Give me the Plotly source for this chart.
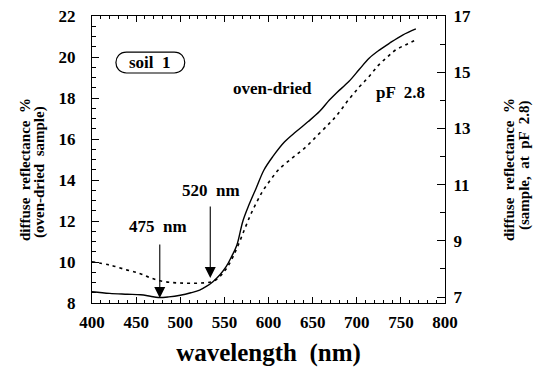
import plotly.graph_objects as go

# ---- data ----
wl_oven = [400, 420, 440, 455, 466, 475, 487, 500, 512, 522, 530, 537, 545, 552, 558, 564,
           571, 578, 586, 595, 605, 618, 631, 645, 658, 669, 677, 691, 703, 714, 726, 737, 752, 767]
refl_oven = [8.55, 8.47, 8.43, 8.40, 8.33, 8.27, 8.30, 8.38, 8.50, 8.63, 8.82, 9.04, 9.38, 9.77, 10.25, 10.8,
             12.0, 12.8, 13.6, 14.5, 15.15, 15.85, 16.35, 16.85, 17.35, 17.9, 18.25, 18.8, 19.4, 19.94, 20.35, 20.67, 21.07, 21.37]

wl_pf = [400, 420, 440, 454, 465, 477, 490, 500, 511, 523, 535, 542, 548, 554, 560, 567, 574, 580, 587, 594,
         603, 612, 627, 643, 656, 669, 677, 690, 703, 714, 725, 735, 744, 755, 765]
refl_pf = [8.26, 8.14, 7.96, 7.84, 7.70, 7.58, 7.52, 7.50, 7.49, 7.50, 7.54, 7.65, 7.84, 8.10, 8.45, 8.95, 9.5, 9.95, 10.4, 10.8,
           11.2, 11.55, 11.95, 12.36, 12.77, 13.18, 13.45, 13.99, 14.48, 14.85, 15.26, 15.55, 15.79, 15.97, 16.12]

x_ticks = [400, 450, 500, 550, 600, 650, 700, 750, 800]
y_left_ticks = [8, 10, 12, 14, 16, 18, 20, 22]
y_right_ticks = [7, 9, 11, 13, 15, 17]

FONT = "Liberation Serif"
L, R, T, B = 92, 445, 16, 303
W, H = 537, 367

def px(xp):
    return (xp - L) / (R - L)

def py(yp):
    return (B - yp) / (B - T)

fig = go.Figure()
fig.add_trace(go.Scatter(x=wl_oven, y=refl_oven, mode="lines", line=dict(color="black", width=1.4),
                         line_shape="spline", showlegend=False))
fig.add_trace(go.Scatter(x=wl_pf, y=refl_pf, mode="lines", yaxis="y2",
                         line=dict(color="black", width=1.6, dash="3px,4px"),
                         line_shape="spline", showlegend=False))
# invisible trace to anchor top x axis
fig.add_trace(go.Scatter(x=[wl_oven[0]], y=[refl_oven[0]], xaxis="x2", mode="markers",
                         marker=dict(opacity=0), showlegend=False, hoverinfo="skip"))

tickfont = dict(family=FONT, size=17, color="black", weight="bold")

fig.update_layout(
    width=W, height=H,
    margin=dict(l=L, r=W - R, t=T, b=H - B, autoexpand=False),
    paper_bgcolor="white", plot_bgcolor="white",
    font=dict(family=FONT, color="black"),
    xaxis=dict(range=[400, 800], tickvals=x_ticks, ticks="inside", ticklen=6, tickwidth=1,
               tickcolor="black", showline=True, linecolor="black", linewidth=1.2,
               showgrid=False, zeroline=False, tickfont=tickfont, automargin=False,
               ticklabelstandoff=3,
               minor=dict(dtick=10, ticks="inside", ticklen=3, tickcolor="black", showgrid=False),
               title=dict(text="wavelength  (nm)", font=dict(family=FONT, size=25, weight="bold"), standoff=12)),
    xaxis2=dict(range=[400, 800], tickvals=x_ticks, overlaying="x", side="top", anchor="y",
                ticks="inside", ticklen=6, tickcolor="black", showline=True, linecolor="black",
                linewidth=1.2, showgrid=False, zeroline=False, showticklabels=False,
                minor=dict(dtick=10, ticks="inside", ticklen=3, tickcolor="black", showgrid=False)),
    yaxis=dict(range=[8, 22], tickvals=y_left_ticks, ticks="inside", ticklen=7, tickcolor="black",
               showline=True, linecolor="black", linewidth=1.2, showgrid=False, zeroline=False,
               tickfont=tickfont, ticklabelstandoff=12, automargin=False,
               minor=dict(dtick=0.5, ticks="inside", ticklen=4, tickcolor="black", showgrid=False)),
    yaxis2=dict(range=[6.79, 17.0], tickvals=y_right_ticks, overlaying="y", side="right",
                ticks="inside", ticklen=8, tickcolor="black", showline=True, linecolor="black",
                linewidth=1.2, showgrid=False, zeroline=False, tickfont=tickfont, automargin=False,
                ticklabelstandoff=4,
                minor=dict(dtick=1, ticks="inside", ticklen=5, tickcolor="black", showgrid=False)),
)

# arrows
for xa, tail, tip in [(476.8, 10.93, 8.24), (534.0, 12.78, 9.22)]:
    fig.add_annotation(x=xa, y=tip, ax=xa, ay=tail, xref="x", yref="y", axref="x", ayref="y",
                       text="", showarrow=True, arrowhead=2, arrowsize=2.0, arrowwidth=1.1,
                       arrowcolor="black")

lbl = dict(family=FONT, size=17, color="black", weight="bold")
fig.add_annotation(x=474.6, y=11.71, text="475  nm", showarrow=False, font=lbl)
fig.add_annotation(x=535.0, y=13.51, text="520  nm", showarrow=False, font=lbl)
fig.add_annotation(x=604.5, y=18.44, text="oven-dried", showarrow=False, font=lbl)
fig.add_annotation(x=750.0, y=18.29, text="pF  2.8", showarrow=False, font=lbl)
fig.add_annotation(x=465.5, y=19.72, text="soil  1", showarrow=False, font=lbl)

# rounded box around "soil 1"
x0, x1, y0, y1 = 427.1, 505.1, 19.22, 20.24
r = 12.0
k = 4 / 3 * r
fig.add_shape(type="path", xref="x", yref="y",
              path=(f"M {x0 + r},{y1} L {x1 - r},{y1} C {x1 - r + k},{y1} {x1 - r + k},{y0} {x1 - r},{y0} "
                    f"L {x0 + r},{y0} C {x0 + r - k},{y0} {x0 + r - k},{y1} {x0 + r},{y1} Z"),
              line=dict(color="black", width=1.2))

# y axis titles as rotated annotations
tfont = dict(family=FONT, size=15, color="black", weight="bold")
for xp, yp, txt in [(25, 170, "diffuse  reflectance  %"), (39, 172, "(oven-dried  sample)"),
                    (509, 170, "diffuse  reflectance  %"), (525, 166, "(sample,  at  pF  2.8)")]:
    fig.add_annotation(x=px(xp), y=py(yp), xref="paper", yref="paper", text=txt, textangle=-90,
                       xanchor="center", yanchor="middle", showarrow=False, font=tfont)

fig.write_html("out.html", config={"displayModeBar": False},
               post_script="document.body.style.margin='0';document.body.style.padding='0';")
